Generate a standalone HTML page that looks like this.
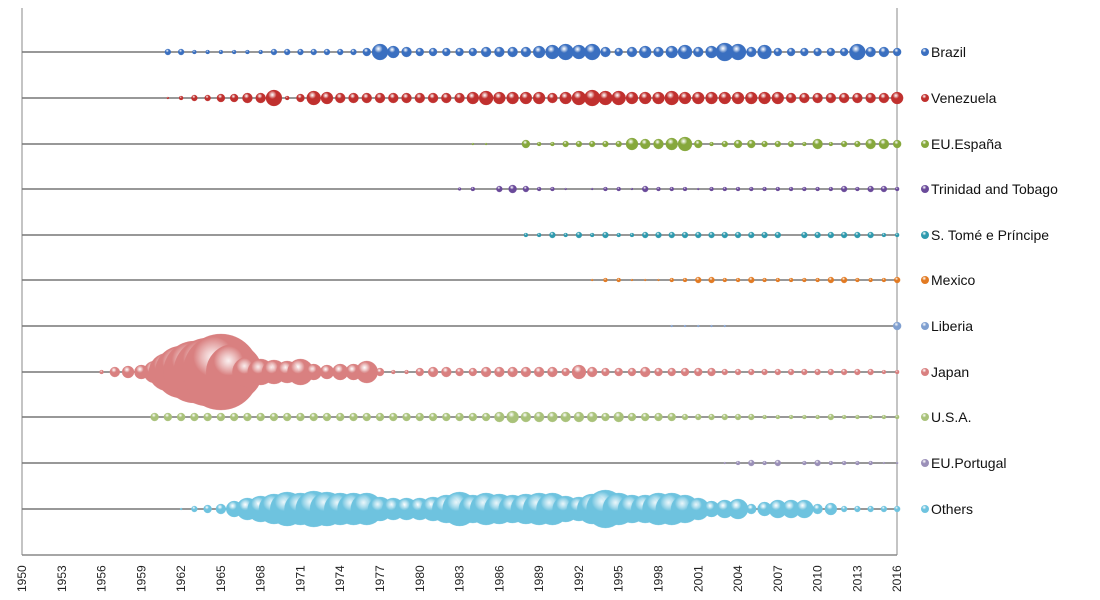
<!DOCTYPE html>
<html><head><meta charset="utf-8"><style>
body{margin:0;background:#fff;}
svg{display:block;font-family:"Liberation Sans",sans-serif;}
</style></head><body>
<svg id="c" width="1100" height="600" xmlns="http://www.w3.org/2000/svg"></svg>
<script>
const svg=document.getElementById('c');
const NS='http://www.w3.org/2000/svg';
function el(t,a,p){const e=document.createElementNS(NS,t);for(const k in a)e.setAttribute(k,a[k]);(p||svg).appendChild(e);return e;}
const X=y=>22+(y-1950)*13.26;
const series=[
['Brazil',52,'#3a6fc0',1961,[3,3,2,2,2,2,2,2,3,3,3,3,3,3,3,4,8,6,5,4,4,4,4,4,5,5,5,5,6,7,8,7,8,5,4,5,6,5,6,7,5,6,9,8,5,7,4,4,4,4,4,4,8,5,5,4]],
['Venezuela',98,'#c0302e',1961,[1,2,3,3,4,4,5,5,8,2,4,7,6,5,5,5,5,5,5,5,5,5,5,6,7,6,6,6,6,5,6,7,8,7,7,6,6,6,7,6,6,6,6,6,6,6,6,5,5,5,5,5,5,5,5,6]],
['EU.España',144,'#86a83c',1984,[1,1,0,0,4,2,2,3,3,3,3,3,6,5,5,6,7,4,2,3,4,4,3,3,3,2,5,2,3,3,5,5,4]],
['Trinidad and Tobago',189,'#6a4a9a',1983,[1.5,2,0,3,4,3,2,2,1,0,1,2,2,1,3,2,2,2,1,2,2,2,2,2,2,2,2,2,2,3,2,3,3,2]],
['S. Tomé e Príncipe',235,'#2e9aae',1988,[2,2,3,2,3,2,3,2,2,3,3,3,3,3,3,3,3,3,3,3,0,3,3,3,3,3,3,2,2]],
['Mexico',280,'#e27a22',1993,[1,2,2,1,1,1,2,2,3,3,2,2,3,2,2,2,2,2,3,3,2,2,2,3]],
['Liberia',326,'#7f9fd0',1998,[0,1,1,1,1,1,0,0,0,0,0,0,0,0,0,0,0,0,4]],
['Japan',372,'#d98080',1956,[2,5,6,7,11,19,26,31,34,38,28,15,13,12,11,13,8,7,8,8,11,4,2,2,4,5,5,4,4,5,5,5,5,5,5,4,7,5,4,4,4,5,4,4,4,4,4,3,3,3,3,3,3,3,3,3,3,3,3,2,2]],
['U.S.A.',417,'#a9c27a',1960,[4,4,4,4,4,4,4,4,4,4,4,4,4,4,4,4,4,4,4,4,4,4,4,4,4,4,5,6,5,5,5,5,5,5,4,5,4,4,4,4,3,3,3,3,3,3,2,2,2,2,2,3,2,2,2,2,2]],
['EU.Portugal',463,'#9a8fb8',2003,[1,2,3,2,3,0,2,3,2,2,2,2,1,1]],
['Others',509,'#6ec3df',1962,[1,3,4,5,8,11,13,15,17,16,18,17,16,16,16,12,11,11,11,12,14,17,14,16,15,14,15,16,16,13,12,15,19,16,14,14,16,16,14,11,8,9,10,5,7,9,9,9,5,6,3,3,3,3,3]]
];
const defs=el('defs',{});
series.forEach((s,i)=>{
 const g=el('radialGradient',{id:'g'+i,cx:'40%',cy:'30%',r:'75%'},defs);
 el('stop',{offset:'0%','stop-color':'#ffffff','stop-opacity':'0.85'},g);
 el('stop',{offset:'35%','stop-color':s[2]},g);
 el('stop',{offset:'100%','stop-color':s[2],'stop-opacity':'1'},g);
});
el('line',{x1:22,y1:8,x2:22,y2:555,stroke:'#888','stroke-width':1});
el('line',{x1:897,y1:8,x2:897,y2:555,stroke:'#888','stroke-width':1});
el('line',{x1:22,y1:555,x2:897,y2:555,stroke:'#888','stroke-width':1.5});
series.forEach(s=>el('line',{x1:22,y1:s[1],x2:897,y2:s[1],stroke:'#777','stroke-width':1.5}));
for(let y=1950;y<=2016;y+=3){
 const t=el('text',{x:0,y:0,'font-size':12,fill:'#222',transform:`translate(${X(y)+4},592) rotate(-90)`});
 t.textContent=y;
}
series.forEach((s,i)=>{
 s[4].forEach((r,k)=>{ if(r>0) el('circle',{cx:X(s[3]+k),cy:s[1],r:r,fill:`url(#g${i})`,stroke:s[2],'stroke-opacity':0.6,'stroke-width':0.5}); });
 el('circle',{cx:925,cy:s[1],r:4,fill:`url(#g${i})`});
 const t=el('text',{x:931,y:s[1]+5,'font-size':14,fill:'#111'});t.textContent=s[0];
});
</script>
</body></html>
